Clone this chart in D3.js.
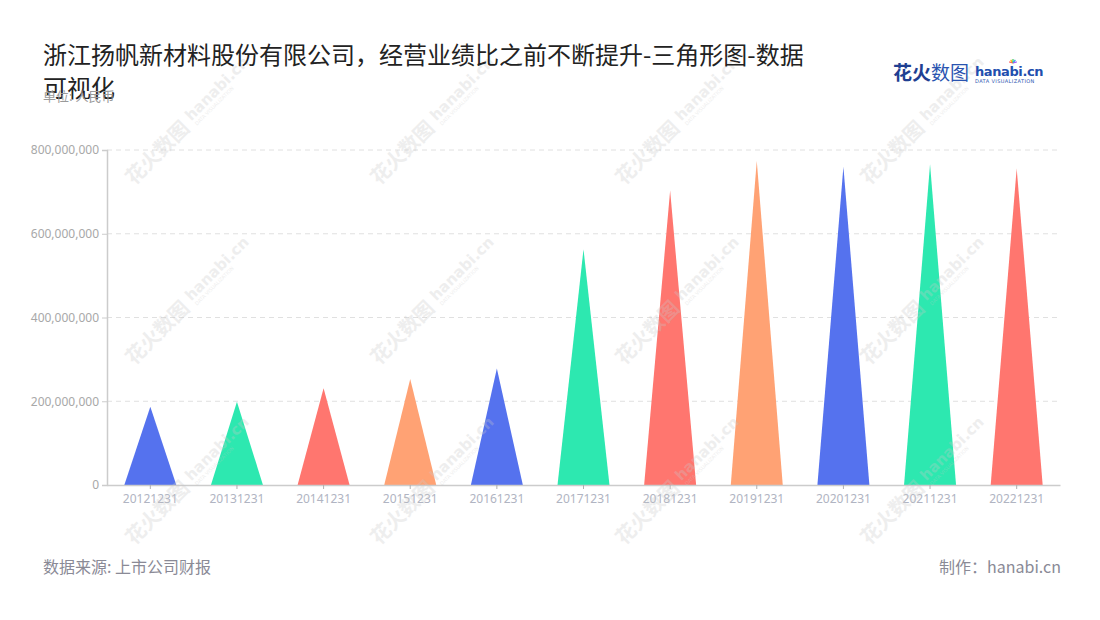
<!DOCTYPE html>
<html>
<head>
<meta charset="utf-8">
<script src="https://cdn.jsdelivr.net/npm/d3@7"></script>
<style>
  body { margin: 0; background: #fff; }
  text { font-family: "Noto Sans CJK SC", "Noto Sans", sans-serif; }
</style>
</head>
<body>
<div id="chart"></div>
<script>
// data
const categories = ["20121231", "20131231", "20141231", "20151231", "20161231", "20171231",
                    "20181231", "20191231", "20201231", "20211231", "20221231"];
const values = [187000000, 199000000, 231000000, 253000000, 278000000, 563000000,
                703000000, 774000000, 760000000, 766000000, 756000000];
const yTicks = [0, 200000000, 400000000, 600000000, 800000000];
const palette = ["#5572ee", "#2de8b0", "#ff766f", "#ffa274"];

const W = 1100, H = 620;
const margin = {top: 150, left: 107, right: 40, bottom: 135};

const svg = d3.select("#chart").append("svg")
    .attr("width", W)
    .attr("height", H);

// scales
const x = d3.scaleBand()
    .domain(categories)
    .range([margin.left, W - margin.right])
    .paddingInner(0.4)
    .paddingOuter(0.2);

const y = d3.scaleLinear()
    .domain([0, 800000000])
    .range([H - margin.bottom, margin.top]);

// grid lines
svg.append("g")
    .selectAll("line")
    .data(yTicks.slice(1))
    .join("line")
    .attr("x1", margin.left)
    .attr("x2", W - margin.right)
    .attr("y1", d => y(d))
    .attr("y2", d => y(d))
    .attr("stroke", "#e0e0e0")
    .attr("stroke-dasharray", "5,4");

// y axis
const yAxis = svg.append("g")
    .attr("transform", `translate(${margin.left},0)`)
    .call(d3.axisLeft(y).tickValues(yTicks).tickFormat(d3.format(",")).tickSize(5).tickPadding(3));
yAxis.select(".domain").attr("stroke", "#cccccc").attr("stroke-width", 1.5);
yAxis.selectAll(".tick line").attr("stroke", "#cccccc");
yAxis.selectAll(".tick text").attr("fill", "#a8a8a8").attr("font-size", 12)
    .style("font-family", "'Noto Sans', sans-serif");

// triangles
const tri = d => {
    const x0 = x(d.cat), x1 = x0 + x.bandwidth(), xm = x0 + x.bandwidth() / 2;
    return `M${x0},${y(0)}L${xm},${y(d.value)}L${x1},${y(0)}Z`;
};
svg.append("g")
    .selectAll("path")
    .data(categories.map((c, i) => ({cat: c, value: values[i], i})))
    .join("path")
    .attr("d", tri)
    .attr("fill", d => palette[d.i % palette.length]);

// x axis
const xAxis = svg.append("g")
    .attr("transform", `translate(0,${y(0)})`)
    .call(d3.axisBottom(x).tickSize(4).tickPadding(5).tickSizeOuter(0));
xAxis.select(".domain").attr("stroke", "#cccccc").attr("stroke-width", 1.5);
xAxis.selectAll(".tick line").attr("stroke", "#b0b0b0");
xAxis.selectAll(".tick text").attr("fill", "#b0b4c2").attr("font-size", 12)
    .style("font-family", "'Noto Sans', sans-serif");

// watermarks
const marks = [];
[180, 425, 670, 915].forEach(cx => [130, 310, 490].forEach(cy => marks.push([cx, cy])));
const wm = svg.append("g").attr("pointer-events", "none")
    .selectAll("g")
    .data(marks)
    .join("g")
    .attr("transform", d => `translate(${d[0]},${d[1]}) rotate(-45)`)
    .attr("fill", "#c8c8c8")
    .attr("opacity", 0.3);
wm.append("text").attr("x", -72).attr("y", 7).attr("font-size", 20).attr("font-weight", 700).text("花火数图");
wm.append("text").attr("x", 14).attr("y", 2).attr("font-size", 15).attr("font-weight", 700)
    .style("font-family", "'DejaVu Sans', sans-serif").text("hanabi.cn");
wm.append("text").attr("x", 15).attr("y", 9).attr("font-size", 5)
    .style("font-family", "'DejaVu Sans', sans-serif").text("DATA VISUALIZATION");

// title
const title = svg.append("text").attr("x", 43).attr("fill", "#222").attr("font-size", 24);
title.append("tspan").attr("x", 43).attr("y", 64).text("浙江扬帆新材料股份有限公司，经营业绩比之前不断提升-三角形图-数据");
title.append("tspan").attr("x", 43).attr("y", 97).text("可视化");

svg.append("text").attr("x", 43).attr("y", 101).attr("fill", "#9a9a9a").attr("font-size", 13)
    .text("单位: 人民币");

// logo
const logo = svg.append("g").attr("transform", "translate(893,80)");
logo.append("text").attr("x", 0).attr("y", 0).attr("font-size", 19).attr("font-weight", 700)
    .attr("fill", "#1f3f92").text("花火");
logo.append("text").attr("x", 38).attr("y", 0).attr("font-size", 19)
    .attr("fill", "#2a54b0").text("数图");
logo.append("text").attr("x", 82).attr("y", -4).attr("font-size", 13).attr("font-weight", 700)
    .attr("fill", "#1f4fae").attr("letter-spacing", -0.4)
    .style("font-family", "'DejaVu Sans', sans-serif").text("hanabi.cn");
logo.append("text").attr("x", 82).attr("y", 3).attr("font-size", 5)
    .attr("fill", "#2a54b0").style("font-family", "'DejaVu Sans', sans-serif").attr("letter-spacing", 0.4)
    .text("DATA VISUALIZATION");
const sparks = ["#ff5a5a", "#ffb300", "#4bc96b", "#27a8f0", "#a35af0"];
logo.append("g").attr("transform", "translate(120,-17)")
    .selectAll("line")
    .data(sparks)
    .join("line")
    .attr("x1", 0).attr("y1", 0)
    .attr("x2", (d, i) => 4 * Math.cos(Math.PI * (1.1 + i * 0.2)))
    .attr("y2", (d, i) => 4 * Math.sin(Math.PI * (1.1 + i * 0.2)))
    .attr("stroke", d => d).attr("stroke-width", 1.3);

// footer
svg.append("text").attr("x", 43).attr("y", 573).attr("fill", "#8a8a96").attr("font-size", 16)
    .text("数据来源: 上市公司财报");
svg.append("text").attr("x", 1061).attr("y", 573).attr("fill", "#8a8a96").attr("font-size", 16)
    .attr("text-anchor", "end").text("制作：hanabi.cn");
</script>
</body>
</html>
